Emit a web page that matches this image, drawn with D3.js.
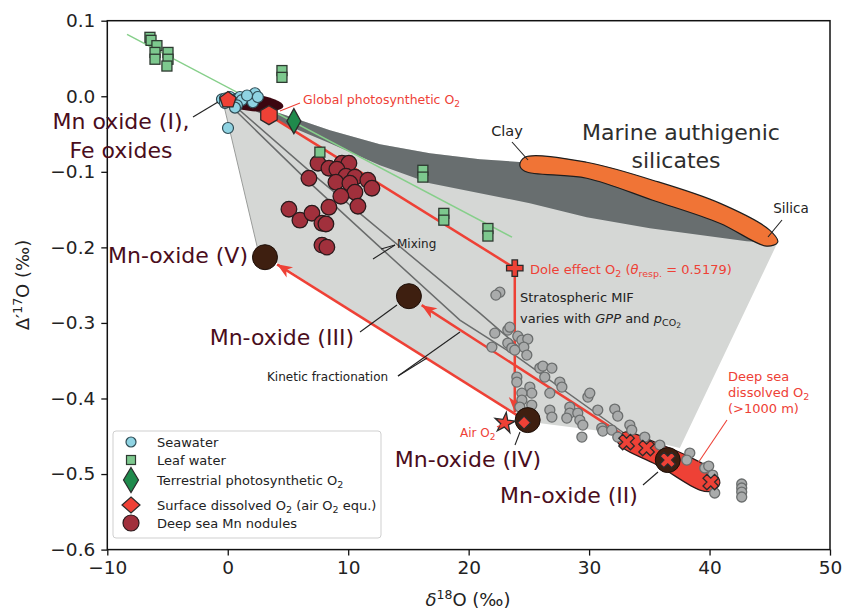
<!DOCTYPE html>
<html>
<head>
<meta charset="utf-8">
<script src="https://cdn.jsdelivr.net/npm/d3@7"></script>
<style>
  body { margin: 0; background: #fff; }
  svg { font-family: "DejaVu Sans", sans-serif; }
</style>
</head>
<body>
<svg id="chart" width="845" height="612"></svg>
<script>
// ---- values (x = d18O, y = D'17O) ----
var xTicks = [-10, 0, 10, 20, 30, 40, 50];
var yTicks = [0.1, 0.0, -0.1, -0.2, -0.3, -0.4, -0.5, -0.6];

var seawater = [[-0.48,-0.004],[-0.23,-0.003],[0.18,-0.001],[0.43,-0.005],[1.01,-0.001],[1.18,-0.005],
  [0.76,-0.012],[-0.23,-0.009],[2.09,-0.008],[2.26,0.004],[2.5,-0.001],[0.6,-0.015],[1.6,0.001],[0.02,-0.042]];

var leafWater = [[-6.46,0.078],[-6.37,0.074],[-5.88,0.067],[-6.04,0.058],[-6.04,0.049],[-4.96,0.058],
  [-4.96,0.049],[-5.05,0.040],[4.5,0.034],[4.5,0.025],[7.65,-0.074],[16.2,-0.098],[16.2,-0.107],
  [17.94,-0.155],[17.94,-0.164],[21.6,-0.175],[21.6,-0.185]];

var nodules = [[7.49,-0.0886],[8.4,-0.0952],[9.48,-0.0886],[10.06,-0.0886],[9.06,-0.0966],[9.81,-0.1058],
  [10.56,-0.1071],[8.98,-0.1138],[10.14,-0.1151],[11.63,-0.1111],[11.97,-0.1217],[10.56,-0.127],
  [9.39,-0.1323],[6.74,-0.1085],[8.4,-0.1468],[10.81,-0.1455],[5.08,-0.1495],[5.99,-0.164],
  [6.99,-0.1548],[7.82,-0.168],[8.15,-0.169],[7.82,-0.197],[8.23,-0.1997]];

var silicatePts = [[22.59,-0.2593],[22.26,-0.2632],[22.17,-0.3135],[23.25,-0.3095],[23.42,-0.3056],
  [23.25,-0.3267],[23.58,-0.3333],[24.08,-0.3175],[24.42,-0.3228],[24.91,-0.3214],[24.58,-0.332],
  [24.83,-0.3426],[23.83,-0.336],[21.93,-0.332],[24.0,-0.3717],[24.0,-0.3783],[25.08,-0.3849],
  [25.24,-0.3929],[24.42,-0.3929],[24.42,-0.4021],[24.25,-0.4114],[25.24,-0.4087],[25.91,-0.3598],
  [26.16,-0.3571],[26.91,-0.3598],[26.32,-0.3717],[27.57,-0.3783],[27.74,-0.3849],[26.74,-0.3929],
  [26.74,-0.4153],[26.91,-0.4246],[28.4,-0.4114],[28.4,-0.4193],[28.15,-0.4259],[29.06,-0.4193],
  [29.23,-0.4286],[29.48,-0.4352],[29.4,-0.4511],[29.9,-0.3981],[30.06,-0.3929],[30.72,-0.4153],
  [31.05,-0.4392],[31.14,-0.4431],[32.13,-0.414],[32.38,-0.4233],[33.38,-0.4352],[33.54,-0.4418],
  [31.88,-0.4418],[32.38,-0.4511],[34.62,-0.4511],[35.87,-0.4616],[38.36,-0.4722],[38.11,-0.4815],
  [39.6,-0.492],[39.93,-0.4894],[40.26,-0.5013],[40.43,-0.5251],[42.67,-0.5132],[42.67,-0.5185],
  [42.67,-0.5238],[42.67,-0.5304]];

var deepSeaO2 = [[33.11,-0.4577],[34.77,-0.4656],[36.53,-0.4815],[40.1,-0.5106]];

var mnOxides = [[3.09,-0.213],[15.04,-0.2646],[24.9,-0.4286],[36.53,-0.4815]];

var globalPhoto = [3.42, -0.025];
var terrestrialPhoto = [5.49, -0.033];
var surfaceO2 = [0.02, -0.005];
var airO2 = [23.0, -0.4325];
var airO2Equ = [24.6, -0.432];
var doleO2 = [23.83, -0.2275];
var mnOxideI = [1.84, -0.008];

// regions and trend lines
var fieldLight = [[-0.48,-0.0013],[2.51,-0.2037],[24.66,-0.43],[32.3,-0.4458],[37.53,-0.4656],
  [45.66,-0.1931],[24.5,-0.0873],[20.93,-0.0833],[16.78,-0.0754],[12.63,-0.0635],[8.48,-0.045],
  [4.33,-0.0225],[0.02,0.0]];
var fieldDark = [[-0.23,-0.0026],[4.33,-0.0225],[8.48,-0.045],[12.63,-0.0635],[16.78,-0.0754],
  [20.93,-0.0833],[24.5,-0.0873],[29.8,-0.09],[35.28,-0.111],[40.84,-0.1415],[44.99,-0.18],
  [45.57,-0.1944],[43.08,-0.1918],[35.05,-0.1746],[29.8,-0.16],[25.08,-0.1415],[16.78,-0.1151],
  [12.63,-0.0913],[8.48,-0.0622],[4.33,-0.0344],[1.01,-0.0106]];
var claySilica = [[24.25,-0.0913],[24.66,-0.0807],[29.8,-0.0873],[35.28,-0.1111],[40.84,-0.1415],
  [44.99,-0.1772],[45.66,-0.1931],[44.75,-0.1984],[40.84,-0.168],[35.28,-0.1376],[29.8,-0.1085],[24.66,-0.0992]];
var deepSeaBand = [[32.32,-0.455],[32.98,-0.4444],[35.64,-0.459],[38.36,-0.4775],[40.2,-0.4947],
  [40.86,-0.5119],[40.2,-0.5225],[39.2,-0.5212],[35.64,-0.488],[32.82,-0.4656]];
var leafLine = [[-8.36,0.082],[23.6,-0.1865]];
var mixing1 = [[-0.32,-0.004],[6.57,-0.111],[12.63,-0.1997],[19.27,-0.2963],[23.83,-0.3426],[33.0,-0.447]];
var mixing2 = [[-0.15,-0.0026],[7.65,-0.111],[20.93,-0.287],[24.66,-0.3386]];
var fieldEdge = [[-0.48,-0.0013],[2.51,-0.2037]];
var photoToDole = [globalPhoto, doleO2];
var doleArrow = [doleO2, [23.83,-0.418]];
var arrowV = [[24.66,-0.4286],[4.1,-0.2225]];
var arrowIII = [[32.57,-0.4458],[16.1,-0.2765]];

// ---- drawing ----
var RED = '#ee4136', EDGE = '#2b2b2b', MAROON = '#4a0d1c';
var svg = d3.select('#chart');
var x = d3.scaleLinear().domain([-10, 50]).range([107.3, 830]);
var y = d3.scaleLinear().domain([-0.6, 0.1]).range([549.6, 20.7]);
var linePath = d3.line().x(function (d) { return x(d[0]); }).y(function (d) { return y(d[1]); });
var polyLine = d3.line().x(function (d) { return x(d[0]); }).y(function (d) { return y(d[1]); }).curve(d3.curveLinearClosed);
var smoothPath = d3.line().x(function (d) { return x(d[0]); }).y(function (d) { return y(d[1]); }).curve(d3.curveCatmullRomClosed.alpha(0.5));

svg.append('defs').append('clipPath').attr('id', 'plotclip')
  .append('rect').attr('x', 107.3).attr('y', 20.7).attr('width', 830 - 107.3).attr('height', 549.6 - 20.7);
var plot = svg.append('g').attr('clip-path', 'url(#plotclip)');

plot.append('path').attr('d', polyLine(fieldLight)).attr('fill', '#d5d7d5');
plot.append('path').attr('d', linePath(fieldEdge)).attr('stroke', '#9a9c9a').attr('stroke-width', 1).attr('fill', 'none');
plot.append('path').attr('d', polyLine(fieldDark)).attr('fill', '#686e6f');
plot.append('path').attr('d', smoothPath(claySilica)).attr('fill', '#f07436').attr('stroke', '#1e1e1e').attr('stroke-width', 1.2);
plot.append('path').attr('d', linePath(leafLine)).attr('stroke', '#86cf8a').attr('stroke-width', 1.5).attr('fill', 'none');
[mixing1, mixing2].forEach(function (m) {
  plot.append('path').attr('d', linePath(m)).attr('stroke', '#6a6c6c').attr('stroke-width', 1.5).attr('fill', 'none');
});

function arrowHead(g, from, to) {
  var x1 = x(from[0]), y1 = y(from[1]), x2 = x(to[0]), y2 = y(to[1]);
  var a = Math.atan2(y2 - y1, x2 - x1);
  var L = 15, W = 6;
  var pts = [[0, 0], [-L, -W], [-L * 0.72, 0], [-L, W]].map(function (p) {
    return [x2 + p[0] * Math.cos(a) - p[1] * Math.sin(a), y2 + p[0] * Math.sin(a) + p[1] * Math.cos(a)];
  });
  g.append('path').attr('d', 'M' + pts.join('L') + 'Z').attr('fill', RED);
}
[photoToDole, doleArrow, arrowV, arrowIII].forEach(function (seg, i) {
  plot.append('path').attr('d', linePath(seg)).attr('stroke', RED).attr('stroke-width', 2.5).attr('fill', 'none');
  if (i > 0) arrowHead(plot, seg[0], seg[1]);
});

plot.append('path').attr('d', smoothPath(deepSeaBand)).attr('fill', RED).attr('stroke', '#2a1b1b').attr('stroke-width', 1.2);

plot.selectAll('.sil').data(silicatePts).enter().append('circle')
  .attr('cx', function (d) { return x(d[0]); }).attr('cy', function (d) { return y(d[1]); })
  .attr('r', 5).attr('fill', '#a9abab').attr('stroke', '#6b6e6e').attr('stroke-width', 1.3);

plot.selectAll('.nod').data(nodules).enter().append('circle')
  .attr('cx', function (d) { return x(d[0]); }).attr('cy', function (d) { return y(d[1]); })
  .attr('r', 7.8).attr('fill', '#a1303c').attr('stroke', '#2a1a1c').attr('stroke-width', 1.3);

plot.selectAll('.leaf').data(leafWater).enter().append('rect')
  .attr('x', function (d) { return x(d[0]) - 5; }).attr('y', function (d) { return y(d[1]) - 5; })
  .attr('width', 10).attr('height', 10).attr('fill', '#7dc88e').attr('stroke', '#2e3a31').attr('stroke-width', 1.3);

// Mn oxide (I) ellipse
var erx = x(mnOxideI[0] + 2.8) - x(mnOxideI[0]);
plot.append('ellipse').attr('cx', 0).attr('cy', 0).attr('rx', erx).attr('ry', 8.5)
  .attr('transform', 'translate(' + x(mnOxideI[0]) + ',' + y(mnOxideI[1]) + ') rotate(7)')
  .attr('fill', '#3c0610');

plot.selectAll('.sea').data(seawater).enter().append('circle')
  .attr('cx', function (d) { return x(d[0]); }).attr('cy', function (d) { return y(d[1]); })
  .attr('r', 5.5).attr('fill', '#8fd3e2').attr('stroke', '#2f4c55').attr('stroke-width', 1.2);

function polyShape(n, r, rot) {
  var p = d3.range(n).map(function (i) {
    var a = rot + i * 2 * Math.PI / n;
    return [r * Math.cos(a), r * Math.sin(a)];
  });
  return 'M' + p.join('L') + 'Z';
}
function diamondShape(w, h) { return 'M0,' + (-h / 2) + 'L' + (w / 2) + ',0L0,' + (h / 2) + 'L' + (-w / 2) + ',0Z'; }
function drawMarker(g, d, path, fill, rot) {
  return g.append('path').attr('d', path)
    .attr('transform', 'translate(' + x(d[0]) + ',' + y(d[1]) + ')' + (rot ? ' rotate(' + rot + ')' : ''))
    .attr('fill', fill).attr('stroke', EDGE).attr('stroke-width', 1.3);
}

drawMarker(plot, surfaceO2, polyShape(5, 8.5, -Math.PI / 2), RED);
drawMarker(plot, globalPhoto, polyShape(6, 9.5, Math.PI / 6), RED);
drawMarker(plot, terrestrialPhoto, diamondShape(14, 25), '#1f8a4c');
drawMarker(plot, doleO2, d3.symbol(d3.symbolCross, 150)(), RED);

plot.selectAll('.mno').data(mnOxides).enter().append('circle')
  .attr('cx', function (d) { return x(d[0]); }).attr('cy', function (d) { return y(d[1]); })
  .attr('r', 12.5).attr('fill', '#3e1f10').attr('stroke', '#1c0e08').attr('stroke-width', 1);

deepSeaO2.forEach(function (d) { drawMarker(plot, d, d3.symbol(d3.symbolCross, 150)(), RED, 45); });
drawMarker(plot, airO2, d3.symbol(d3.symbolStar, 130)(), RED, 8);
drawMarker(plot, airO2Equ, diamondShape(13, 13), RED);

// ---- axes ----
svg.append('rect').attr('x', 107.3).attr('y', 20.7).attr('width', 830 - 107.3).attr('height', 549.6 - 20.7)
  .attr('fill', 'none').attr('stroke', '#111').attr('stroke-width', 1.5);
var gy = svg.append('g').attr('transform', 'translate(107.3,0)')
  .call(d3.axisLeft(y).tickValues(yTicks).tickFormat(d3.format('.1f')).tickSize(6).tickPadding(6));
var gx = svg.append('g').attr('transform', 'translate(0,549.6)')
  .call(d3.axisBottom(x).tickValues(xTicks).tickFormat(d3.format('d')).tickSize(6).tickPadding(5));
[gx, gy].forEach(function (g) {
  g.select('.domain').remove();
  g.selectAll('line').attr('stroke', '#111').attr('stroke-width', 1.3);
  g.selectAll('text').attr('fill', '#222').style('font-size', '18.5px').style('font-family', '"DejaVu Sans", sans-serif');
});

// ---- text helpers ----
function rich(g, tx, ty, parts, o) {
  o = o || {};
  var t = g.append('text').attr('x', tx).attr('y', ty)
    .attr('text-anchor', o.anchor || 'start').attr('fill', o.color || '#222')
    .style('font-size', (o.size || 13) + 'px');
  if (o.rotate) t.attr('transform', 'rotate(' + o.rotate + ',' + tx + ',' + ty + ')');
  var shift = 0;
  parts.forEach(function (p) {
    if (typeof p === 'string') p = { t: p };
    var s = p.dy || 0;
    var ts = t.append('tspan').text(p.t).attr('dy', s - shift);
    shift = s;
    if (p.size) ts.style('font-size', p.size + 'px');
    if (p.italic) ts.style('font-style', 'italic');
  });
  return t;
}
function leader(g, pts, color, w) {
  g.append('path').attr('d', 'M' + pts.join('L')).attr('fill', 'none')
    .attr('stroke', color || '#222').attr('stroke-width', w || 1.1);
}

var ann = svg.append('g');
rich(ann, 468, 606, [{ t: 'δ', italic: true }, { t: '18', size: 12.5, dy: -7 }, { t: 'O (‰)' }], { anchor: 'middle', size: 18 });
rich(ann, 29, 285, ['Δ′', { t: '17', size: 12.5, dy: -7 }, 'O (‰)'], { anchor: 'middle', size: 18, rotate: -90 });

// large labels
rich(ann, 121, 129, ['Mn oxide (I),'], { anchor: 'middle', size: 22, color: MAROON });
rich(ann, 121, 158, ['Fe oxides'], { anchor: 'middle', size: 22, color: MAROON });
leader(ann, [[193, 117], [218, 102]]);
rich(ann, 248, 263, ['Mn-oxide (V)'], { anchor: 'end', size: 22, color: MAROON });
rich(ann, 354, 345, ['Mn-oxide (III)'], { anchor: 'end', size: 22, color: MAROON });
leader(ann, [[360, 332], [397, 305]]);
rich(ann, 468, 467, ['Mn-oxide (IV)'], { anchor: 'middle', size: 22, color: MAROON });
leader(ann, [[515, 445], [520, 432]]);
rich(ann, 569, 503, ['Mn-oxide (II)'], { anchor: 'middle', size: 22, color: MAROON });
leader(ann, [[643, 485], [658, 472]]);
rich(ann, 681, 140, ['Marine authigenic'], { anchor: 'middle', size: 22, color: '#2e2e2e' });
rich(ann, 676, 168, ['silicates'], { anchor: 'middle', size: 22, color: '#2e2e2e' });
rich(ann, 507, 136, ['Clay'], { anchor: 'middle', size: 14.5 });
leader(ann, [[512, 142], [528, 160]]);
rich(ann, 791, 213, ['Silica'], { anchor: 'middle', size: 13.5 });
leader(ann, [[782, 220], [768, 237]]);

// small annotations
rich(ann, 303, 104, ['Global photosynthetic O', { t: '2', size: 9, dy: 3 }], { size: 12.5, color: RED });
leader(ann, [[300, 103], [280, 111]], RED, 1.1);
rich(ann, 530, 274, ['Dole effect O', { t: '2', size: 9.5, dy: 3 }, ' (', { t: 'θ', italic: true }, { t: 'resp.', size: 9.5, dy: 3 }, ' = 0.5179)'],
  { size: 13, color: RED });
rich(ann, 520, 302, ['Stratospheric MIF'], { size: 13 });
rich(ann, 520, 323, ['varies with ', { t: 'GPP', italic: true }, ' and ', { t: 'p', italic: true }, { t: 'CO', size: 9.5, dy: 3 }, { t: '2', size: 7.5, dy: 5 }], { size: 13 });
rich(ann, 397, 248, ['Mixing'], { size: 12 });
leader(ann, [[395, 245], [381, 249]]);
leader(ann, [[395, 245], [373, 259]]);
rich(ann, 267, 381, ['Kinetic fractionation'], { size: 12 });
leader(ann, [[398, 376], [427, 358]]);
leader(ann, [[398, 376], [460, 332]]);
rich(ann, 460, 437, ['Air O', { t: '2', size: 9, dy: 3 }], { size: 12, color: RED });
leader(ann, [[497, 427], [507, 422]], RED, 1.1);
rich(ann, 728, 381, ['Deep sea'], { size: 13, color: RED });
rich(ann, 728, 397, ['dissolved O', { t: '2', size: 9.5, dy: 3 }], { size: 13, color: RED });
rich(ann, 728, 413, ['(>1000 m)'], { size: 13, color: RED });
leader(ann, [[727, 420], [698, 463]], RED, 1.1);

// ---- legend ----
var lg = svg.append('g');
lg.append('rect').attr('x', 113).attr('y', 431).attr('width', 268).attr('height', 107).attr('rx', 3)
  .attr('fill', 'rgba(255,255,255,0.85)').attr('stroke', '#cfcfcf').attr('stroke-width', 1);
var legRows = [442, 460, 480, 505, 523];
lg.append('circle').attr('cx', 131).attr('cy', legRows[0]).attr('r', 5).attr('fill', '#8fd3e2').attr('stroke', '#2f4c55').attr('stroke-width', 1.2);
lg.append('rect').attr('x', 126.5).attr('y', legRows[1] - 4.5).attr('width', 9).attr('height', 9).attr('fill', '#7dc88e').attr('stroke', '#2e3a31').attr('stroke-width', 1.2);
lg.append('path').attr('d', diamondShape(15, 25)).attr('transform', 'translate(131,' + legRows[2] + ')').attr('fill', '#1f8a4c').attr('stroke', EDGE).attr('stroke-width', 1.2);
lg.append('path').attr('d', diamondShape(18, 16)).attr('transform', 'translate(131,' + legRows[3] + ')').attr('fill', RED).attr('stroke', EDGE).attr('stroke-width', 1.2);
lg.append('circle').attr('cx', 131).attr('cy', legRows[4]).attr('r', 8).attr('fill', '#a1303c').attr('stroke', '#2a1a1c').attr('stroke-width', 1.2);
var legText = [
  ['Seawater'],
  ['Leaf water'],
  ['Terrestrial photosynthetic O', { t: '2', size: 9.5, dy: 3 }],
  ['Surface dissolved O', { t: '2', size: 9.5, dy: 3 }, { t: ' (air O' }, { t: '2', size: 9.5, dy: 3 }, { t: ' equ.)' }],
  ['Deep sea Mn nodules']
];
legText.forEach(function (parts, i) { rich(lg, 157, legRows[i] + 4.5, parts, { size: 13 }); });
</script>
</body>
</html>
